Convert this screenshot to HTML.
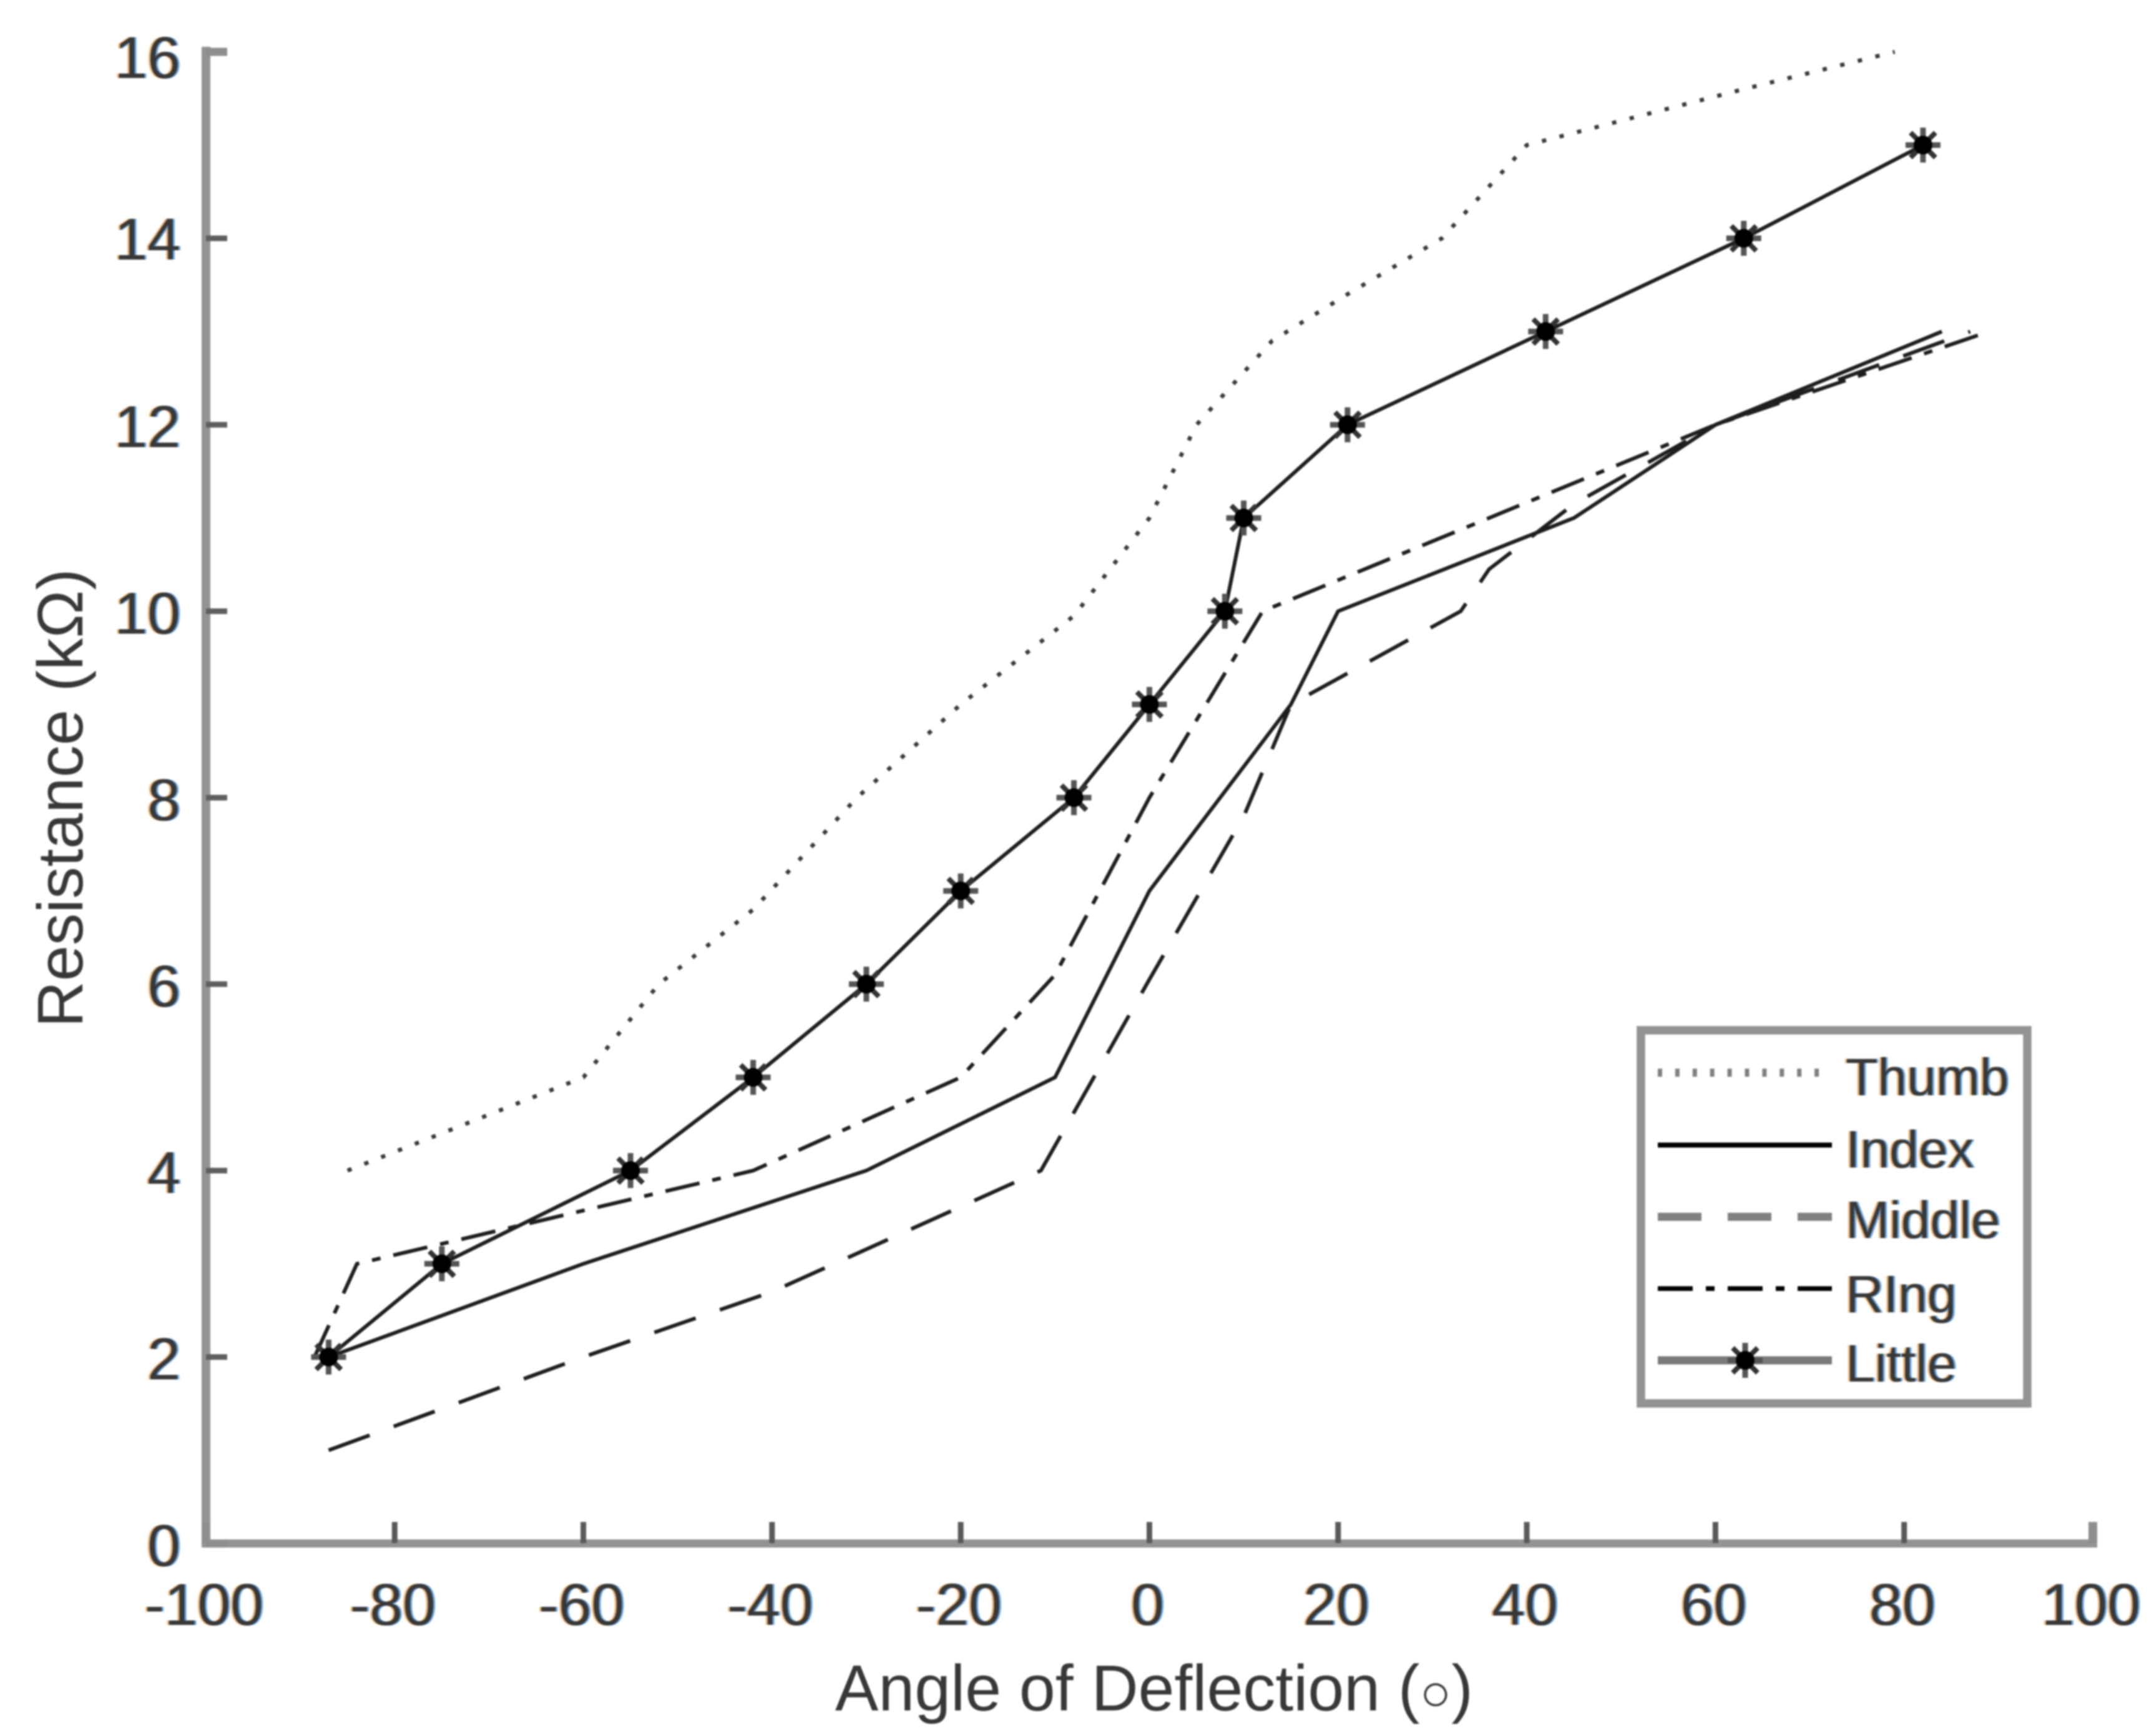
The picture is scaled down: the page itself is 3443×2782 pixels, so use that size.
<!DOCTYPE html>
<html lang="en">
<head>
<meta charset="utf-8">
<title>Resistance vs Angle of Deflection</title>
<style>
html,body{margin:0;padding:0;background:#fff;width:3443px;height:2782px;overflow:hidden}
svg{display:block;filter:blur(1.3px)}
text{font-family:"Liberation Sans",Arial,sans-serif;fill:#383838}
</style>
</head>
<body>
<svg id="chart" xmlns="http://www.w3.org/2000/svg" width="3443" height="2782" viewBox="0 0 3443 2782">
  <defs>
    <filter id="fringe" x="-10%" y="-10%" width="120%" height="120%" color-interpolation-filters="sRGB">
      <feOffset in="SourceAlpha" dx="-3" dy="0" result="a"/>
      <feFlood flood-color="#e8a050" flood-opacity="0.8"/>
      <feComposite in2="a" operator="in" result="orange"/>
      <feOffset in="SourceAlpha" dx="3" dy="0" result="b"/>
      <feFlood flood-color="#4a96e0" flood-opacity="0.8"/>
      <feComposite in2="b" operator="in" result="blue"/>
      <feMerge><feMergeNode in="orange"/><feMergeNode in="blue"/><feMergeNode in="SourceGraphic"/></feMerge>
    </filter>
  </defs>
  <rect x="0" y="0" width="3443" height="2782" fill="#fff"/>
  <g id="series"></g>
  <g id="axes">
    <rect x="323" y="75" width="14" height="2404" fill="#939393"/>
    <rect x="323" y="2467" width="3037" height="13" fill="#939393"/>
  </g>
  <g id="tick-labels" filter="url(#fringe)"></g>
  <text x="1849" y="2741" text-anchor="middle" font-size="104">Angle of Deflection (<tspan font-size="84">○</tspan>)</text>
  <text transform="translate(132,1279) rotate(-90)" text-anchor="middle" font-size="103">Resistance (kΩ)</text>

  <g>
    <rect x="2629" y="1651" width="619" height="598" fill="#fff" stroke="#939393" stroke-width="13.5"/>
    <line x1="2656" y1="1719" x2="2935" y2="1719" stroke="#808080" stroke-width="13" stroke-dasharray="7 20.9"/>
    <line x1="2656" y1="1835" x2="2935" y2="1835" stroke="#000" stroke-width="8"/>
    <line x1="2656" y1="1950" x2="2935" y2="1950" stroke="#808080" stroke-width="13" stroke-dasharray="70 42"/>
    <line x1="2656" y1="2065" x2="2935" y2="2065" stroke="#000" stroke-width="7.5" stroke-dasharray="56 21 14 21"/>
    <line x1="2656" y1="2180" x2="2935" y2="2180" stroke="#7a7a7a" stroke-width="13"/>
    <g id="legend-marker"></g>
    <g filter="url(#fringe)" font-size="84">
      <text x="2957" y="1755">Thumb</text>
      <text x="2957" y="1871">Index</text>
      <text x="2957" y="1984">Middle</text>
      <text x="2957" y="2103">RIng</text>
      <text x="2957" y="2214">Little</text>
    </g>
  </g>
</svg>
<script>
// Chart data
const xTickValues = [-100, -80, -60, -40, -20, 0, 20, 40, 60, 80, 100];
const yTickValues = [0, 2, 4, 6, 8, 10, 12, 14, 16];

const thumbX = [-85, -60, -52, -42, -31, -20, -8, 0, 5, 13, 21, 31, 40, 63, 79];
const thumbY = [4, 5, 6, 6.8, 8, 9, 9.95, 11, 12, 12.9, 13.4, 14, 15, 15.6, 16];

const indexX = [-87, -60, -30, -10, 0, 15, 20, 45, 60, 84];
const indexY = [2, 3, 4, 5, 7, 9, 10, 11, 12, 13];

const middleX = [-87, -60, -40, -11.5, 0, 10, 15, 33, 36, 45, 60, 87];
const middleY = [1, 2, 2.7, 4, 6.05, 7.8, 9, 10, 10.45, 11.15, 12, 13];

const ringX = [-88.5, -84, -42, -20, -10, 0, 12, 60, 89];
const ringY = [2, 3, 4, 5, 6.1, 8, 10, 12, 13];

const littleX = [-87, -75, -55, -42, -30, -20, -8, 0, 8, 10, 21, 42, 63, 82];
const littleY = [2, 3, 4, 5, 6, 7, 8, 9, 10, 11, 12, 13, 14, 15];

const SVGNS = 'http://www.w3.org/2000/svg';
function xScale(v) { return 330 + (v + 100) * 15.115; }
function yScale(v) { return 2473.5 - v * 149.4; }

function make(tag, attrs, parent) {
  const el = document.createElementNS(SVGNS, tag);
  for (const k in attrs) el.setAttribute(k, attrs[k]);
  parent.appendChild(el);
  return el;
}

const axesLayer = document.getElementById('axes');
const labelLayer = document.getElementById('tick-labels');
const seriesLayer = document.getElementById('series');

xTickValues.forEach(function (v) {
  const grey = v === -100 || v === 100;
  const tick = make('rect', { x: xScale(v) - (grey ? 7 : 4.5), y: 2439, width: grey ? 14 : 9, height: 34, fill: grey ? '#8e8e8e' : '#5a5a5a' }, axesLayer);
  
  
  const label = make('text', { x: xScale(v) - 3, y: 2604, 'text-anchor': 'middle', 'font-size': 95 }, labelLayer);
  label.textContent = String(v);
  
  
});

yTickValues.forEach(function (v) {
  const grey = v === 0 || v === 16;
  const tick = make('rect', { x: 330, y: yScale(v) - (grey ? 6.5 : 4.5), width: 34, height: grey ? 13 : 9, fill: grey ? '#8e8e8e' : '#5f5f5f' }, axesLayer);
  
  
  const label = make('text', { x: 289, y: yScale(v) + (v === 16 ? 42 : v === 14 ? 34 : 36), 'text-anchor': 'end', 'font-size': 95 }, labelLayer);
  label.textContent = String(v);
  
  
});

function linePoints(xs, ys) {
  return xs.map(function (x, i) { return xScale(x) + ',' + yScale(ys[i]); }).join(' ');
}

const thumbLine = make('polyline', { points: linePoints(thumbX, thumbY), fill: 'none', stroke: '#3a3a3a', 'stroke-width': 6.5, 'stroke-dasharray': '7 22' }, seriesLayer);



const indexLine = make('polyline', { points: linePoints(indexX, indexY), fill: 'none', stroke: '#1e1e1e', 'stroke-width': 6 }, seriesLayer);



const middleLine = make('polyline', { points: linePoints(middleX, middleY), fill: 'none', stroke: '#1e1e1e', 'stroke-width': 6, 'stroke-dasharray': '70 41' }, seriesLayer);



const ringLine = make('polyline', { points: linePoints(ringX, ringY), fill: 'none', stroke: '#1e1e1e', 'stroke-width': 6, 'stroke-dasharray': '56 21 14 21' }, seriesLayer);



const littleLine = make('polyline', { points: linePoints(littleX, littleY), fill: 'none', stroke: '#1e1e1e', 'stroke-width': 6 }, seriesLayer);



function drawStar(cx, cy, parent) {
  make('line', { x1: cx - 28, y1: cy, x2: cx + 28, y2: cy, stroke: '#555', 'stroke-width': 9 }, parent);
  make('line', { x1: cx, y1: cy - 28, x2: cx, y2: cy + 28, stroke: '#555', 'stroke-width': 9 }, parent);
  make('line', { x1: cx - 20, y1: cy - 20, x2: cx + 20, y2: cy + 20, stroke: '#333', 'stroke-width': 8 }, parent);
  make('line', { x1: cx - 20, y1: cy + 20, x2: cx + 20, y2: cy - 20, stroke: '#333', 'stroke-width': 8 }, parent);
  make('circle', { cx: cx, cy: cy, r: 15, fill: '#000' }, parent);
}

littleX.forEach(function (x, i) {
  const marker = make('g', {}, seriesLayer);
  
  
  drawStar(xScale(x), yScale(littleY[i]), marker);
});

drawStar(2796, 2180, document.getElementById('legend-marker'));
</script>
</body>
</html>
